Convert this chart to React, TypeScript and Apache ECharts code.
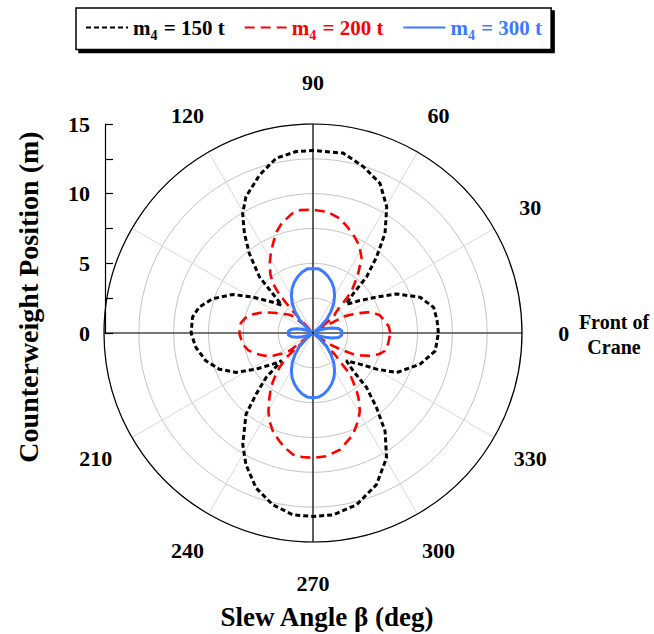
import React, { useEffect, useRef } from 'react';
import * as echarts from 'echarts';

// ---- data: [slew angle (deg), counterweight position (m)] ----
const series150: [number, number][] = [
  [0, 9.0], [6, 8.95], [12, 8.85], [18.5, 8.1], [25, 6.63], [29.5, 5.24], [34.7, 4.09], [39.6, 3.28], [41, 3.15],
  [44.3, 4.03], [46.3, 5.56], [50.1, 7.11], [54.1, 8.81], [59.7, 10.49], [65.9, 11.77], [73.2, 12.48], [80.5, 13.09], [90, 13.1],
  [95.3, 13.08], [101.9, 12.82], [108.7, 11.97], [116.2, 10.9], [120.5, 9.95], [124.6, 8.67], [128.7, 7.3], [133.7, 5.56],
  [135.7, 4.03], [138.3, 3.0], [142.5, 3.63], [149.2, 5.03], [154.4, 6.4], [161.2, 7.62], [167.2, 8.38], [172.5, 8.72], [180, 8.75],
  [187, 8.47], [194.5, 7.95], [201.1, 7.21], [207.1, 6.21], [212.4, 4.84], [217.8, 3.65], [221.5, 3.0], [223.5, 4.64],
  [227.1, 6.0], [230.5, 7.56], [237.8, 9.46], [243, 10.6], [249.8, 11.85], [256.8, 12.66], [263.7, 13.13], [270, 13.17],
  [276.3, 13.13], [284.2, 12.72], [292.7, 11.8], [300.5, 10.4], [306.3, 8.74], [310.4, 7.04], [314.5, 5.49], [316.7, 3.96],
  [320.3, 3.12], [326.4, 4.04], [330.4, 5.25], [334.7, 6.64], [343.8, 8.01], [351.7, 8.87], [360, 9.0],
];

const series200: [number, number][] = [
  [0, 5.55], [5, 5.45], [10, 5.2], [15, 4.95], [20, 4.4], [25, 3.3], [28, 2.5], [32, 0.3], [38, 1.9], [42, 2.2], [44, 2.65],
  [46, 3.55], [48, 4.2], [52, 5.2], [57, 6.4], [62, 7.1], [67, 7.55], [72, 8.0], [77, 8.45], [83, 8.75], [90, 8.85],
  [96, 8.87], [100, 8.7], [106, 8.18], [110, 7.7], [114, 7.04], [118, 6.45], [122, 5.87], [126, 5.2], [129, 4.56], [131, 3.7],
  [132.5, 2.5], [135, 0.3], [139, 1.8], [143, 2.2], [148, 2.6], [153, 3.2], [158, 3.95], [165, 4.85], [172, 5.23], [180, 5.29],
  [189, 5.11], [195, 4.8], [200, 4.36], [205, 3.85], [209.6, 3.32], [214, 2.6], [217, 2.11], [220, 0.3], [222.5, 2.6],
  [225.8, 3.45], [229.2, 4.22], [232, 4.9], [236, 5.59], [240, 6.4], [243.7, 7.05], [248, 7.65], [252.8, 8.13], [256, 8.45],
  [260.6, 8.84], [265, 8.93], [270, 8.96],
  [276, 8.9], [283, 8.6], [291.6, 7.83], [297, 7.1], [301, 6.53], [305, 5.7], [307, 5.2], [310, 4.4], [311.8, 3.97],
  [313, 3.1], [315.5, 2.2], [319, 0.3], [326, 1.5], [329, 2.24], [332.3, 3.26], [335, 3.8], [338.2, 4.4], [342, 4.95],
  [346, 5.32], [352, 5.45], [360, 5.55],
];

const series300: [number, number][] = [
  [0, 2.1], [5, 2.05], [10, 1.85], [15, 1.4], [20, 0.9], [25, 0.45], [30, 0.15], [35, 0.1], [40, 0.6], [45, 1.4], [50, 2.0],
  [55, 2.6], [60, 3.1], [65, 3.55], [70, 3.9], [75, 4.2], [80, 4.45], [85, 4.62], [90, 4.62],
  [95, 4.62], [100, 4.45], [105, 4.2], [110, 3.9], [115, 3.55], [120, 3.1], [125, 2.6], [130, 2.0], [135, 1.4], [140, 0.6],
  [145, 0.1], [150, 0.15], [155, 0.4], [160, 0.8], [165, 1.2], [170, 1.55], [175, 1.75], [180, 1.8],
  [185, 1.75], [190, 1.55], [195, 1.2], [200, 0.8], [205, 0.4], [210, 0.15], [215, 0.1], [220, 0.6], [225, 1.4], [230, 2.0],
  [235, 2.6], [240, 3.1], [245, 3.55], [250, 3.9], [255, 4.2], [260, 4.45], [265, 4.62], [270, 4.65],
  [275, 4.62], [280, 4.45], [285, 4.2], [290, 3.9], [295, 3.55], [300, 3.1], [305, 2.6], [310, 2.0], [315, 1.4], [320, 0.6],
  [325, 0.1], [330, 0.15], [335, 0.45], [340, 0.9], [345, 1.4], [350, 1.85], [355, 2.05], [360, 2.1],
];

// axis reference lines (radius, angle)
const crossH: [number, number][] = [[15, 0], [0, 0], [15, 180]];
const crossV: [number, number][] = [[15, 90], [0, 0], [15, 270]];

const radiusLabels = [0, 5, 10, 15];
const angleLabels = [0, 30, 60, 90, 120, 210, 240, 270, 300, 330];
const angleLabelRadius = 18; // in radius-axis units, just outside the 15 m ring

const seriesNames = ['m4 = 150 t', 'm4 = 200 t', 'm4 = 300 t'];
const seriesColors = ['#000000', '#ff0000', '#3a7bff'];

const SERIF = '"Liberation Serif", "Times New Roman", serif';

export default function App() {
  const ref = useRef<HTMLDivElement>(null);
  useEffect(() => {
    if (!ref.current) return;
    const chart = echarts.init(ref.current, null, { renderer: 'svg' });
    const toPolar = (arr: [number, number][]) => arr.map(([a, r]) => [r, a]);
    const richFor = (c: string) => ({
      fontFamily: SERIF, fontWeight: 'bold' as const, fontSize: 21, color: c,
    });
    const subFor = (c: string) => ({
      fontFamily: SERIF, fontWeight: 'bold' as const, fontSize: 14, color: c, padding: [16, 1, 0, 0],
    });
    const baseGraphics: any[] = [
      {
        type: 'text', x: 614, y: 334,
        style: {
          text: 'Front of\nCrane', fill: '#000', font: `bold 20px ${SERIF}`,
          textAlign: 'center', textVerticalAlign: 'middle', lineHeight: 25,
        },
      },
      {
        type: 'text', x: 28, y: 297, rotation: Math.PI / 2,
        style: {
          text: 'Counterweight Position (m)', fill: '#000', font: `bold 28px ${SERIF}`,
          textAlign: 'center', textVerticalAlign: 'middle',
        },
      },
      {
        type: 'text', x: 327, y: 617,
        style: {
          text: 'Slew Angle β (deg)', fill: '#000', font: `bold 27px ${SERIF}`,
          textAlign: 'center', textVerticalAlign: 'middle',
        },
      },
    ];
    const option: any = {
      animation: false,
      legend: {
        data: seriesNames,
        left: 76,
        top: 8,
        padding: [9, 9, 7, 9],
        itemGap: 19,
        itemWidth: 42,
        itemHeight: 14,
        itemStyle: { opacity: 0, color: 'transparent', borderWidth: 0 },
        borderColor: '#000',
        borderWidth: 1.5,
        backgroundColor: '#fff',
        shadowColor: 'rgba(0,0,0,1)',
        shadowBlur: 0,
        shadowOffsetX: 3,
        shadowOffsetY: 3,
        formatter: (name: string) => {
          const i = seriesNames.indexOf(name);
          const k = ['k', 'r', 'b'][i];
          return `{${k}|m}{${k}s|4}{${k}| = ${name.split('= ')[1]}}`;
        },
        textStyle: {
          fontFamily: SERIF,
          fontWeight: 'bold',
          fontSize: 21,
          rich: {
            k: richFor(seriesColors[0]), ks: subFor(seriesColors[0]),
            r: richFor(seriesColors[1]), rs: subFor(seriesColors[1]),
            b: richFor(seriesColors[2]), bs: subFor(seriesColors[2]),
          },
        },
      },
      polar: { center: [313, 333], radius: 209 },
      angleAxis: {
        type: 'value',
        min: 0,
        max: 360,
        interval: 30,
        startAngle: 0,
        clockwise: false,
        axisLine: { lineStyle: { color: '#000', width: 1.2 } },
        axisTick: { show: false },
        splitLine: { lineStyle: { color: '#d9d9d9', width: 1 } },
        axisLabel: { show: false },
      },
      radiusAxis: {
        type: 'value',
        min: 0,
        max: 15,
        interval: 2.5,
        axisLine: { show: false },
        axisTick: { show: false },
        axisLabel: { show: false },
        splitLine: { lineStyle: { color: '#c4c4c4', width: 1 } },
      },
      grid: { left: 105, top: 124, width: 417, height: 209 },
      xAxis: { type: 'value', min: 0, max: 1, show: false },
      yAxis: {
        type: 'value',
        min: 0,
        max: 15,
        interval: 2.5,
        axisLine: { show: true, lineStyle: { color: '#000', width: 1.2 } },
        axisTick: { show: true, inside: true, length: 8, lineStyle: { color: '#000', width: 1.2 } },
        splitLine: { show: false },
        axisLabel: {
          margin: 15,
          fontFamily: SERIF,
          fontWeight: 'bold',
          fontSize: 22,
          color: '#000',
          formatter: (v: number) => (radiusLabels.includes(v) ? String(v) : ''),
        },
      },
      graphic: baseGraphics,
      series: [
        {
          type: 'line', coordinateSystem: 'polar', polarIndex: 0, data: crossH, symbol: 'none', silent: true,
          lineStyle: { color: '#000', width: 1.2 }, z: 1,
        },
        {
          type: 'line', coordinateSystem: 'polar', polarIndex: 0, data: crossV, symbol: 'none', silent: true,
          lineStyle: { color: '#000', width: 1.2 }, z: 1,
        },
        {
          name: seriesNames[0], type: 'line', coordinateSystem: 'polar', data: toPolar(series150), symbol: 'none',
          lineStyle: { color: seriesColors[0], width: 3, type: [5, 3] }, itemStyle: { color: seriesColors[0] }, z: 3,
        },
        {
          name: seriesNames[1], type: 'line', coordinateSystem: 'polar', data: toPolar(series200), symbol: 'none',
          lineStyle: { color: seriesColors[1], width: 2.6, type: [10, 6] }, itemStyle: { color: seriesColors[1] }, z: 4,
        },
        {
          name: seriesNames[2], type: 'line', coordinateSystem: 'polar', data: toPolar(series300), symbol: 'none',
          lineStyle: { color: seriesColors[2], width: 3 }, itemStyle: { color: seriesColors[2] }, z: 5,
        },
      ],
    };
    chart.setOption(option);
    // angle tick labels, placed through the polar coordinate system
    const labelGraphics = angleLabels.map((a) => {
      const p = chart.convertToPixel({ seriesIndex: 0 } as any, [angleLabelRadius, a]) as number[];
      return {
        type: 'text', x: p[0], y: p[1],
        style: {
          text: String(a), fill: '#000', font: `bold 22px ${SERIF}`,
          textAlign: 'center', textVerticalAlign: 'middle',
        },
      };
    });
    chart.setOption({ graphic: [...baseGraphics, ...labelGraphics] });
    return () => chart.dispose();
  }, []);
  return (
    <div
      ref={ref}
      style={{ position: 'absolute', left: 0, top: 0, width: 654, height: 634, background: '#fff' }}
    />
  );
}
